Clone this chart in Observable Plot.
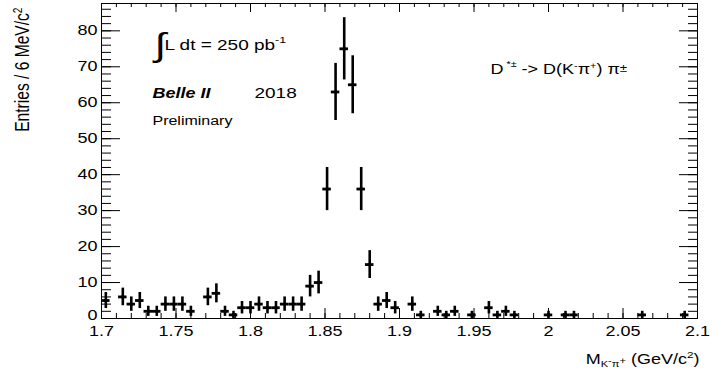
<!DOCTYPE html>
<html>
<head>
<meta charset="utf-8">
<script src="https://cdn.jsdelivr.net/npm/d3@7"></script>
<script src="https://cdn.jsdelivr.net/npm/@observablehq/plot@0.6"></script>
<style>
  html, body { margin: 0; padding: 0; background: #fff; }
  #chart svg { display: block; }
</style>
</head>
<body>
<div id="chart"></div>
<script>
// ---- data (bin centres in GeV/c^2, entries per bin; empty bins omitted) ----
const mass = [1.7029, 1.7143, 1.7200, 1.7257, 1.7314, 1.7371, 1.7429, 1.7486, 1.7543, 1.7600,
              1.7714, 1.7771, 1.7829, 1.7886, 1.7943, 1.8000, 1.8057, 1.8114, 1.8171, 1.8229,
              1.8286, 1.8343, 1.8400, 1.8457, 1.8514, 1.8571, 1.8629, 1.8686, 1.8743, 1.8800,
              1.8857, 1.8914, 1.8971, 1.9086, 1.9143, 1.9257, 1.9314, 1.9371, 1.9486, 1.9600,
              1.9657, 1.9714, 1.9771, 2.0000, 2.0114, 2.0171, 2.0629, 2.0914];
const entries = [5, 6, 4, 5, 2, 2, 4, 4, 4, 2,
                 6, 7, 2, 1, 3, 3, 4, 3, 3, 4,
                 4, 4, 9, 10, 36, 63, 75, 65, 36, 15,
                 4, 5, 3, 4, 1, 2, 1, 2, 1, 3,
                 1, 2, 1, 1, 1, 1, 1, 1];
const binWidth = 0.4 / 70;

const xTicks = [1.7, 1.75, 1.8, 1.85, 1.9, 1.95, 2.0, 2.05, 2.1];
const xTickLabels = ["1.7", "1.75", "1.8", "1.85", "1.9", "1.95", "2", "2.05", "2.1"];
const yTicks = [0, 10, 20, 30, 40, 50, 60, 70, 80];
const yTickLabels = ["0", "10", "20", "30", "40", "50", "60", "70", "80"];
const xMinorTicks = d3.range(0, 41).map(i => 1.7 + i * 0.01);
const yMinorTicks = d3.range(0, 44).map(i => i * 2);

const yTitle = "Entries / 6 MeV/c2";
const xTitle = "MKpi (GeV/c2)";
const lumiText = "L dt = 250 pb-1";
const decayText = "D*pm -> D(Kpi) pi";

const data = mass.map((m, i) => ({m, n: entries[i], e: Math.sqrt(entries[i])}));

// ---- layout ----
const W = 721, H = 383;
const mL = 101, mR = 24, mT = 3, mB = 65;
const pw = W - mL - mR, ph = H - mT - mB;
const FONT = "'Liberation Sans', Arial, Helvetica, sans-serif";
const yLabelFmt = d => yTickLabels[yTicks.indexOf(d)];

const chart = Plot.plot({
  width: W, height: H,
  marginLeft: mL, marginRight: mR, marginTop: mT, marginBottom: mB,
  style: {fontFamily: FONT, background: "#fff", color: "#000", overflow: "visible"},
  x: {domain: [1.7, 2.1]},
  y: {domain: [0, 87.6]},
  marks: [
    // ticks inside frame (ROOT style)
    Plot.tickX(xMinorTicks, {x: d => d, insetTop: ph - 5, stroke: "#000"}),
    Plot.tickX(xTicks, {x: d => d, insetTop: ph - 10, stroke: "#000"}),
    Plot.tickX(xMinorTicks, {x: d => d, insetBottom: ph - 4, stroke: "#000"}),
    Plot.tickX(xTicks, {x: d => d, insetBottom: ph - 9, stroke: "#000"}),
    Plot.tickY(yMinorTicks, {y: d => d, insetRight: pw - 10, stroke: "#000"}),
    Plot.tickY(yTicks, {y: d => d, insetRight: pw - 19, stroke: "#000"}),
    Plot.tickY(yMinorTicks, {y: d => d, insetLeft: pw - 9, stroke: "#000"}),
    Plot.tickY(yTicks, {y: d => d, insetLeft: pw - 18, stroke: "#000"}),
    Plot.frame({stroke: "#000", strokeWidth: 1}),
    Plot.axisX(xTicks, {tickSize: 0, tickPadding: 8, fontSize: 18, label: null,
      tickFormat: d => xTickLabels[xTicks.indexOf(d)]}),
    Plot.axisY(yTicks.slice(1), {tickSize: 0, tickPadding: 4, fontSize: 18, label: null, tickFormat: yLabelFmt}),
    Plot.axisY(yTicks.slice(0, 1), {tickSize: 0, tickPadding: 4, fontSize: 18, label: null, tickFormat: yLabelFmt, dy: -3}),
    // data points with Poisson error bars
    Plot.ruleX(data, {x: "m", y1: d => d.n - d.e, y2: d => d.n + d.e, stroke: "#000", strokeWidth: 2.6}),
    Plot.ruleY(data, {y: "n", x1: d => d.m - binWidth / 2, x2: d => d.m + binWidth / 2, stroke: "#000", strokeWidth: 2.8}),
    Plot.dot(data, {x: "m", y: "n", r: 1.8, fill: "#000"}),
    // annotations
    Plot.text(["\u222B"], {text: d => d, frameAnchor: "top-left", dx: 53, dy: 52, textAnchor: "start", lineAnchor: "bottom", fontSize: 42}),
    Plot.text([lumiText], {text: d => d, frameAnchor: "top-left", dx: 63, dy: 46, textAnchor: "start", lineAnchor: "bottom", fontSize: 19}),
    Plot.text(["Belle II"], {text: d => d, frameAnchor: "top-left", dx: 51, dy: 94, textAnchor: "start", lineAnchor: "bottom", fontSize: 18, fontWeight: "bold", fontStyle: "italic"}),
    Plot.text(["2018"], {text: d => d, frameAnchor: "top-left", dx: 153, dy: 94, textAnchor: "start", lineAnchor: "bottom", fontSize: 19}),
    Plot.text(["Preliminary"], {text: d => d, frameAnchor: "top-left", dx: 51, dy: 121, textAnchor: "start", lineAnchor: "bottom", fontSize: 16}),
    Plot.text([decayText], {text: d => d, frameAnchor: "top-left", dx: 389, dy: 70, textAnchor: "start", lineAnchor: "bottom", fontSize: 18}),
    Plot.text([xTitle], {text: d => d, frameAnchor: "bottom-right", dx: 2, dy: 45, textAnchor: "end", lineAnchor: "bottom", fontSize: 18}),
    Plot.text([yTitle], {text: d => d, frameAnchor: "top-left", dx: -79, dy: 4, rotate: -90, textAnchor: "end", lineAnchor: "middle", fontSize: 20})
  ]
});

// rich text (super/subscripts) as tspans
const rich = {
  [yTitle]: 'Entries / 6 MeV/c<tspan dy="-7" font-size="65%">2</tspan>',
  [xTitle]: 'M<tspan dy="5" font-size="62%">K<tspan dy="-4">-</tspan><tspan dy="4">\u03C0</tspan><tspan dy="-4">+</tspan></tspan><tspan dy="-1"> (GeV/c</tspan><tspan dy="-7" font-size="65%">2</tspan><tspan dy="7">)</tspan>',
  [lumiText]: 'L dt = 250 pb<tspan dy="-8" font-size="65%">-1</tspan>',
  [decayText]: 'D<tspan dy="-8" font-size="60%"> *\u00B1</tspan><tspan dy="8"> -&gt; D(K</tspan><tspan dy="-6" font-size="60%">-</tspan><tspan dy="6">\u03C0</tspan><tspan dy="-6" font-size="60%">+</tspan><tspan dy="6">) \u03C0</tspan><tspan dy="-2" font-size="75%">\u00B1</tspan>'
};
chart.querySelectorAll("text").forEach(t => {
  const c = t.textContent;
  if (rich[c] !== undefined) t.innerHTML = rich[c];
});

// the reference is vertically compressed: squash glyphs accordingly
const S = 0.78;
chart.querySelectorAll("text").forEach(t => {
  const tr = t.getAttribute("transform");
  if (tr) {
    t.setAttribute("transform", tr + (/rotate/.test(tr) ? ` scale(${S},1)` : ` scale(1,${S})`));
  } else {
    const y = parseFloat(t.getAttribute("y")) || 0;
    t.setAttribute("transform", `translate(0,${y * (1 - S)}) scale(1,${S})`);
  }
});

document.getElementById("chart").appendChild(chart);
</script>
</body>
</html>
